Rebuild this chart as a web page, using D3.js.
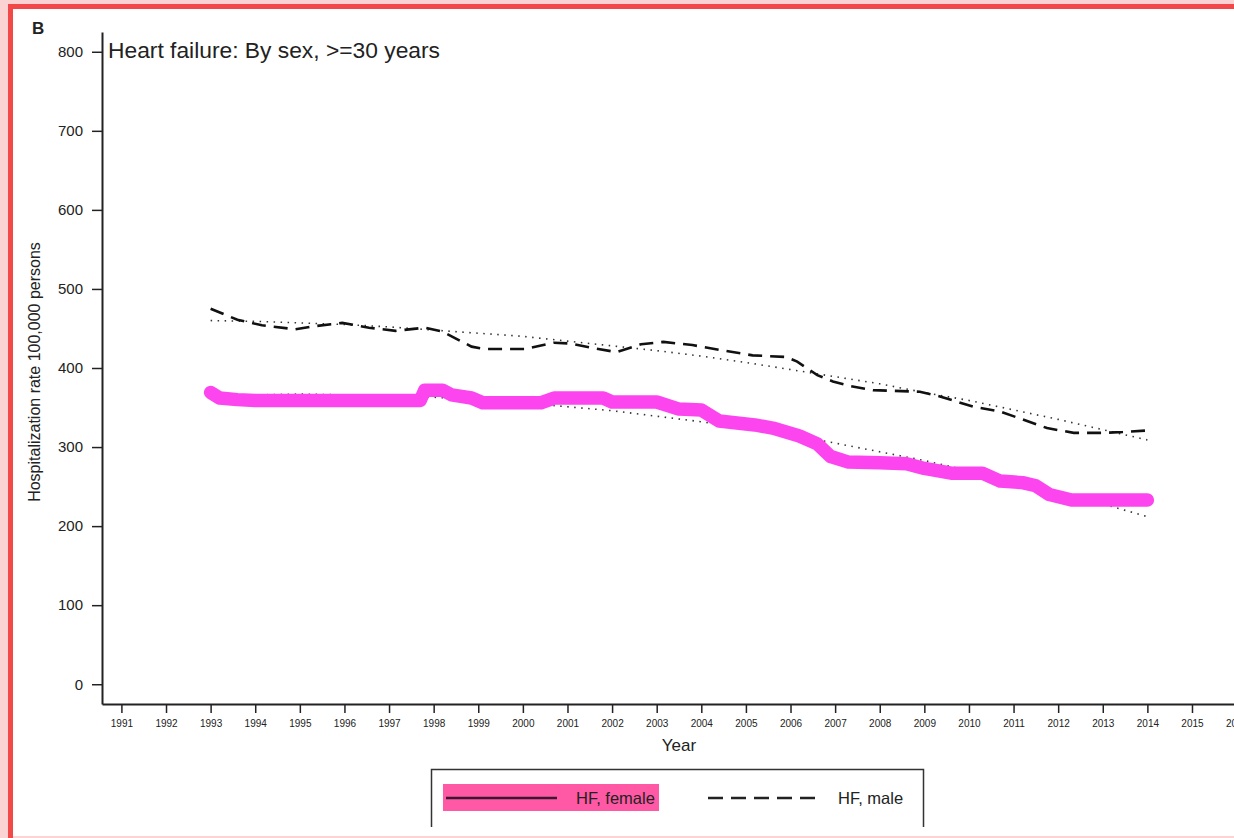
<!DOCTYPE html>
<html>
<head>
<meta charset="utf-8">
<script src="https://cdn.jsdelivr.net/npm/d3@7"></script>
<style>
  html, body { margin: 0; padding: 0; background: #fff; }
  svg { display: block; font-family: "Liberation Sans", Arial, Helvetica, sans-serif; }
</style>
</head>
<body>
<svg id="chart" width="1234" height="838"></svg>
<script>
// Heart failure hospitalization rate per 100,000 persons, >=30 years

// Female series (time in fractional years, rate)
const femaleYear = [1993.0, 1993.2, 1993.6, 1994.0, 1997.7, 1997.8, 1998.2, 1998.4, 1998.85, 1999.1,
  2000.4, 2000.7, 2001.8, 2002.0, 2003.0, 2003.5, 2004.0, 2004.4, 2005.2, 2005.6,
  2006.2, 2006.6, 2006.9, 2007.3, 2008.0, 2008.6, 2009.0, 2009.6, 2010.3, 2010.7,
  2011.2, 2011.5, 2011.8, 2012.3, 2014.0];
const femaleRate = [369, 362, 360, 359, 359, 372, 372, 366, 362, 356,
  356, 362, 362, 357, 357, 348, 347, 333, 328, 324,
  314, 304, 288, 281, 280, 279, 273, 267, 267, 257,
  255, 251, 240, 233, 233];

// Male series
const maleYear = [1993.0, 1993.6, 1994.15, 1994.9, 1995.35, 1995.95, 1996.55, 1997.15, 1997.8, 1998.2,
  1998.85, 1999.15, 2000.05, 2000.7, 2001.05, 2001.6, 2002.1, 2002.65, 2003.15, 2003.8,
  2004.4, 2005.15, 2005.9, 2006.15, 2006.6, 2006.95, 2007.35, 2007.85, 2008.9, 2009.35,
  2010.1, 2010.7, 2011.15, 2011.75, 2012.35, 2013.0, 2013.45, 2014.0];
const maleRate = [475, 461, 454, 449, 453, 457, 451, 447, 451, 446,
  427, 424, 424, 432, 431, 425, 420, 430, 433, 429,
  423, 416, 414, 408, 391, 383, 377, 372, 370, 364,
  351, 345, 336, 324, 318, 318, 319, 321];

// Fitted trends (dotted)
const trendYear = [1993, 1994, 1995, 1996, 1997, 1998, 1999, 2000, 2001, 2002, 2003,
  2004, 2005, 2006, 2007, 2008, 2009, 2010, 2011, 2012, 2013, 2014];
const femaleTrend = [365, 366, 367, 366, 365, 363, 360, 356, 351, 346, 339,
  332, 324, 315, 305, 294, 283, 270, 257, 243, 228, 212];
const maleTrend = [460, 459, 457, 455, 452, 448, 444, 440, 434, 428, 422,
  415, 407, 398, 389, 380, 369, 359, 347, 335, 322, 309];

// Axis ticks
const xTicks = [1991, 1992, 1993, 1994, 1995, 1996, 1997, 1998, 1999, 2000, 2001, 2002, 2003,
  2004, 2005, 2006, 2007, 2008, 2009, 2010, 2011, 2012, 2013, 2014, 2015, 2016];
const yTicks = [0, 100, 200, 300, 400, 500, 600, 700, 800];

const svg = d3.select("#chart");
const ink = "#222";

// Frame edges
svg.append("rect").attr("x", 0).attr("y", 0).attr("width", 1234).attr("height", 4).attr("fill", "#fbd3d3");
svg.append("rect").attr("x", 0).attr("y", 0).attr("width", 8).attr("height", 838).attr("fill", "#fbd3d3");
svg.append("rect").attr("x", 8).attr("y", 4).attr("width", 1226).attr("height", 5).attr("fill", "#f24848");
svg.append("rect").attr("x", 8).attr("y", 4).attr("width", 5).attr("height", 834).attr("fill", "#f24848");
svg.append("rect").attr("x", 13).attr("y", 836).attr("width", 1221).attr("height", 2).attr("fill", "#fcd4d4");

// Scales
const x = d3.scaleLinear().domain([1990.565, 2016.435]).range([102, 1256]);
const y = d3.scaleLinear().domain([-25, 825]).range([704, 32]);

// Y axis
const yAxis = svg.append("g")
  .attr("transform", "translate(102,0)")
  .call(d3.axisLeft(y).tickValues(yTicks).tickSize(10).tickSizeOuter(0).tickPadding(9));
yAxis.select(".domain").attr("stroke", ink).attr("stroke-width", 2);
yAxis.selectAll(".tick line").attr("stroke", ink).attr("stroke-width", 1.5);
yAxis.selectAll(".tick text").attr("fill", ink).attr("font-size", 15)
  .attr("font-family", "'Liberation Sans', Arial, sans-serif");

// X axis
const xAxis = svg.append("g")
  .attr("transform", "translate(0,704)")
  .call(d3.axisBottom(x).tickValues(xTicks).tickFormat(d3.format("d")).tickSize(9).tickSizeOuter(0).tickPadding(7));
xAxis.select(".domain").attr("stroke", ink).attr("stroke-width", 2);
xAxis.selectAll(".tick line").attr("stroke", ink).attr("stroke-width", 1.5);
xAxis.selectAll(".tick text").attr("fill", ink).attr("font-size", 10)
  .attr("font-family", "'Liberation Sans', Arial, sans-serif");

// Axis titles
svg.append("text").attr("x", 679).attr("y", 751).attr("text-anchor", "middle")
  .attr("font-size", 17).attr("fill", ink).text("Year");
svg.append("text")
  .attr("transform", `translate(40,${y(400) + 4}) rotate(-90)`)
  .attr("text-anchor", "middle").attr("font-size", 16).attr("fill", ink)
  .text("Hospitalization rate 100,000 persons");

// Panel letter and title
svg.append("text").attr("x", 32).attr("y", 34).attr("font-size", 17).attr("font-weight", "bold")
  .attr("fill", ink).text("B");
svg.append("text").attr("x", 108).attr("y", 58).attr("font-size", 22.8).attr("fill", ink)
  .text("Heart failure: By sex, >=30 years");

// Line generators
const line = d3.line().x(d => x(d[0])).y(d => y(d[1]));
const female = femaleYear.map((t, i) => [t, femaleRate[i]]);
const male = maleYear.map((t, i) => [t, maleRate[i]]);
const fTrend = trendYear.map((t, i) => [t, femaleTrend[i]]);
const mTrend = trendYear.map((t, i) => [t, maleTrend[i]]);

// Trends (dotted)
[fTrend, mTrend].forEach(data => {
  svg.append("path").datum(data).attr("d", line)
    .attr("fill", "none").attr("stroke", "#333").attr("stroke-width", 1.6)
    .attr("stroke-dasharray", "1.5,5.5");
});

// Male (dashed)
svg.append("path").datum(male).attr("d", line)
  .attr("fill", "none").attr("stroke", "#111").attr("stroke-width", 2.6)
  .attr("stroke-dasharray", "14,8");

// Female (solid, with highlight)
svg.append("path").datum(female).attr("d", line)
  .attr("fill", "none").attr("stroke", "#111").attr("stroke-width", 2);
svg.append("path").datum(female).attr("d", line)
  .attr("fill", "none").attr("stroke", "#fc45ef").attr("stroke-width", 13.5)
  .attr("stroke-linecap", "round").attr("stroke-linejoin", "round");

// Legend
const lg = svg.append("g");
lg.append("path").attr("d", "M431.5,827 V769.5 H923.5 V827")
  .attr("fill", "none").attr("stroke", "#333").attr("stroke-width", 1.5);
lg.append("rect").attr("x", 443).attr("y", 784).attr("width", 216).attr("height", 27).attr("fill", "#ff58a4");
lg.append("line").attr("x1", 446).attr("x2", 557).attr("y1", 798).attr("y2", 798)
  .attr("stroke", "#3a1830").attr("stroke-width", 2.4);
lg.append("text").attr("x", 576).attr("y", 804).attr("font-size", 16.5).attr("fill", "#222").text("HF, female");
lg.append("line").attr("x1", 708).attr("x2", 818).attr("y1", 798).attr("y2", 798)
  .attr("stroke", "#222").attr("stroke-width", 2.4).attr("stroke-dasharray", "15,8");
lg.append("text").attr("x", 838).attr("y", 804).attr("font-size", 16.5).attr("fill", "#222").text("HF, male");
</script>
</body>
</html>
